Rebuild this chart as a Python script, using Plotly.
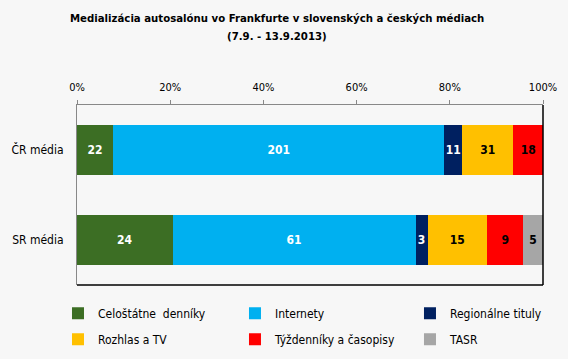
import plotly.graph_objects as go

categories = ["ČR média", "SR média"]
series_names = ["Celoštátne  denníky", "Internety", "Regionálne tituly",
                "Rozhlas a TV", "Týždenníky a časopisy", "TASR"]
cr_values = [22, 201, 11, 31, 18, None]
sr_values = [24, 61, 3, 15, 9, 5]
colors = ["#3C6E24", "#00B0F0", "#002060", "#FFC000", "#FF0000", "#A6A6A6"]
text_colors = ["white", "white", "white", "black", "black", "black"]
tick_vals = [0, 20, 40, 60, 80, 100]
tick_text = ["0%", "20%", "40%", "60%", "80%", "100%"]
legend_ids = ["legend", "legend2", "legend3", "legend", "legend2", "legend3"]
title_line1 = "Medializácia autosalónu vo Frankfurte v slovenských a českých médiach"
title_line2 = "(7.9. - 13.9.2013)"

FONT = "DejaVu Sans Condensed"

fig = go.Figure()
for i, name in enumerate(series_names):
    vals = [cr_values[i], sr_values[i]]
    fig.add_trace(go.Bar(
        y=categories, x=vals, name=name, orientation="h",
        marker=dict(color=colors[i], line=dict(width=0)),
        text=[("" if v is None else str(v)) for v in vals],
        texttemplate="<b>%{text}</b>",
        textposition="inside", insidetextanchor="middle", textangle=0,
        textfont=dict(color=text_colors[i], size=12, family=FONT),
        constraintext="none", width=0.556,
        legend=legend_ids[i], legendgroup="g%d" % i,
        hoverinfo="name+x",
    ))

leg_common = dict(orientation="v", xanchor="left", xref="container", yref="container",
                  y=0.168, yanchor="top", bgcolor="rgba(0,0,0,0)", tracegroupgap=7,
                  font=dict(size=12, family=FONT), traceorder="grouped")

fig.update_layout(
    barmode="stack", barnorm="percent",
    width=568, height=359,
    paper_bgcolor="#F7F7F7", plot_bgcolor="#F7F7F7",
    margin=dict(l=77, r=25, t=105, b=74, autoexpand=False),
    font=dict(family=FONT, size=11, color="black"),
    uniformtext=dict(mode=False),
    xaxis=dict(side="top", range=[0, 100], tickvals=tick_vals, ticktext=tick_text,
               showgrid=False, zeroline=False, showline=True, linecolor="#888888",
               linewidth=1, ticks="outside", ticklen=4, tickcolor="#888888",
               ticklabelstandoff=5,
               tickfont=dict(size=11, family=FONT)),
    yaxis=dict(categoryorder="array", categoryarray=categories, autorange="reversed",
               showgrid=False, zeroline=False, showline=True, linecolor="#888888",
               linewidth=1, ticks="", ticklabelstandoff=10,
               tickfont=dict(size=12, family=FONT)),
    legend=dict(x=0.1021, **leg_common),
    legend2=dict(x=0.4137, **leg_common),
    legend3=dict(x=0.7218, **leg_common),
    showlegend=True,
    annotations=[
        dict(text="<b>%s</b>" % title_line1, xref="paper", yref="paper",
             x=0.429, y=1.483, xanchor="center", yanchor="middle", showarrow=False,
             font=dict(family=FONT, size=11.3, color="black")),
        dict(text="<b>%s</b>" % title_line2, xref="paper", yref="paper",
             x=0.429, y=1.383, xanchor="center", yanchor="middle", showarrow=False,
             font=dict(family=FONT, size=11.3, color="black")),
    ],
    shapes=[
        dict(type="line", xref="paper", yref="paper", x0=1, x1=1, y0=0, y1=1,
             line=dict(color="black", width=1.5)),
        dict(type="line", xref="paper", yref="paper", x0=0, x1=1, y0=0, y1=0,
             line=dict(color="black", width=1.5)),
    ],
)

fig.write_html("out.html", config={"displayModeBar": False},
               post_script="document.body.style.margin='0';document.body.style.background='#F7F7F7';")
